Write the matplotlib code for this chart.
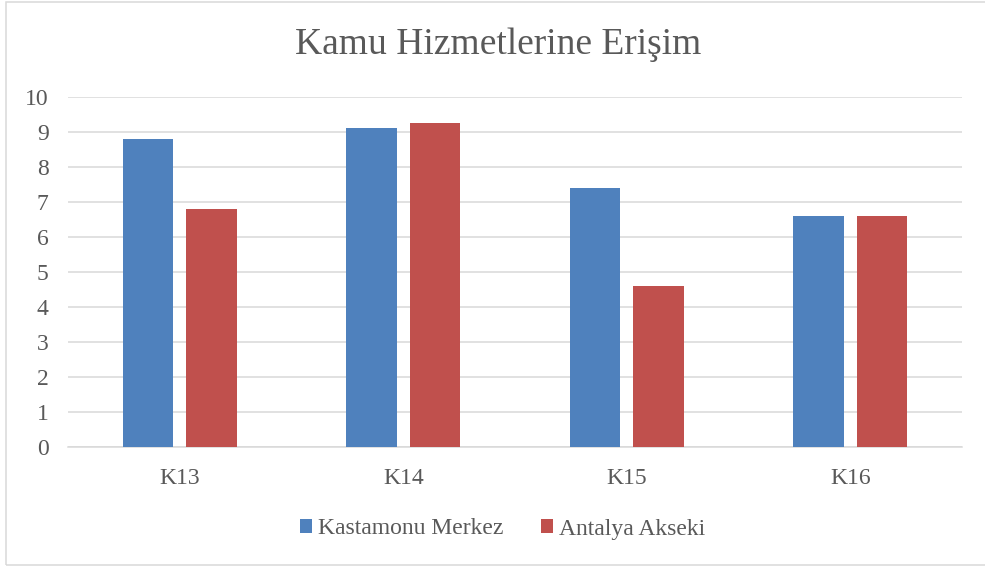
import matplotlib
matplotlib.use("Agg")
import matplotlib.pyplot as plt
import matplotlib.patches as mpatches
import numpy as np

plt.rcParams["font.family"] = ["Liberation Serif", "DejaVu Serif"]

# data
categories = ["K13", "K14", "K15", "K16"]
kastamonu = [8.8, 9.1, 7.4, 6.6]
akseki = [6.8, 9.25, 4.6, 6.6]
series_names = ["Kastamonu Merkez", "Antalya Akseki"]

C_BLUE = "#4F81BD"
C_RED = "#C0504D"
C_TEXT = "#595959"
C_GRID = "#D9D9D9"

fig = plt.figure(figsize=(9.85, 5.67), dpi=100)
fig.patch.set_facecolor("white")
ax = fig.add_axes([68 / 985, 1 - 446.7 / 567, (962 - 68) / 985, (446.7 - 96.7) / 567])

x = np.arange(len(categories))
w = 0.224
off = 0.142
ax.bar(x - off, kastamonu, w, color=C_BLUE, label=series_names[0], zorder=3)
ax.bar(x + off, akseki, w, color=C_RED, label=series_names[1], zorder=3)

ax.set_xlim(-0.5, len(categories) - 0.5)
ax.set_ylim(0, 10)
ax.set_yticks(range(0, 11))
ax.set_xticks(x)
ax.set_xticklabels(categories)

ax.grid(axis="y", color=C_GRID, linewidth=1.1, zorder=0)
for s in ["left", "right", "top"]:
    ax.spines[s].set_visible(False)
ax.spines["bottom"].set_color(C_GRID)
ax.spines["bottom"].set_linewidth(1.1)
ax.tick_params(axis="both", length=0, labelsize=17, colors=C_TEXT)
ax.tick_params(axis="y", pad=14)
ax.tick_params(axis="x", pad=15)

fig.text(498 / 985, 1 - 45 / 567, "Kamu Hizmetlerine Erişim",
         ha="center", va="center", fontsize=27, color=C_TEXT)

fig.legend(loc="center", bbox_to_anchor=(502.5 / 985, 1 - 529 / 567),
           ncol=2, frameon=False, fontsize=17, labelcolor=C_TEXT,
           handlelength=0.5, handleheight=0.5, handletextpad=0.25,
           columnspacing=1.6)

# chart border
fig.add_artist(mpatches.Rectangle((6 / 985, 2 / 567), 1.0, 563 / 567,
                                  transform=fig.transFigure, fill=False,
                                  edgecolor=C_GRID, linewidth=1.1))

fig.savefig("out.png", dpi=100, facecolor="white")
